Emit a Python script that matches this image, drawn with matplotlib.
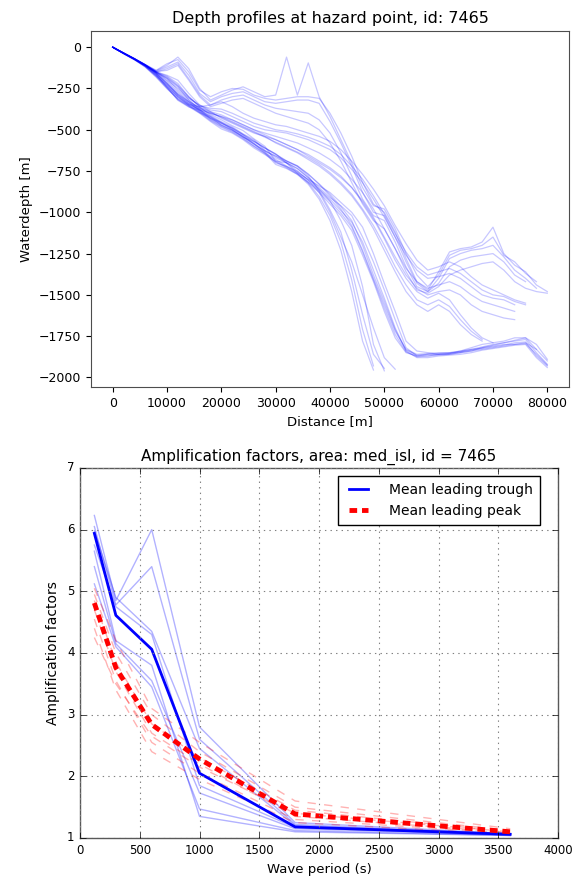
import matplotlib
matplotlib.use("Agg")
import matplotlib.pyplot as plt
import numpy as np

# ---- depth profiles (distance grid every 2 km, depth in m) ----
distance = [0, 2000, 4000, 6000, 8000, 10000, 12000, 14000, 16000, 18000,
            20000, 22000, 24000, 26000, 28000, 30000, 32000, 34000, 36000, 38000,
            40000, 42000, 44000, 46000, 48000, 50000, 52000, 54000, 56000, 58000,
            60000, 62000, 64000, 66000, 68000, 70000, 72000, 74000, 76000, 78000,
            80000]

# profiles that drop off the steep cliff near 48-52 km
L1 = [0, -36, -72, -110, -160, -225, -285, -330, -370, -405, -440, -475, -505, -555, -600, -690, -700, -735, -790, -860, -930, -1050, -1200, -1450, -1800, -1960]
L2 = [0, -40, -76, -116, -172, -232, -300, -345, -362, -412, -452, -482, -525, -560, -625, -660, -690, -722, -780, -870, -985, -1120, -1350, -1620, -1860, -1945]
L3 = [0, -38, -73, -121, -182, -252, -312, -352, -392, -422, -472, -502, -545, -572, -612, -645, -702, -762, -822, -905, -1020, -1180, -1410, -1710, -1930]
L4 = [0, -37, -70, -112, -166, -242, -322, -362, -382, -432, -462, -492, -532, -582, -632, -700, -722, -752, -805, -880, -1000, -1150, -1300, -1500, -1700, -1880, -1950]
L5 = [0, -39, -75, -118, -178, -248, -318, -356, -398, -428, -455, -498, -540, -585, -640, -710, -735, -770, -830, -920, -1050, -1230, -1480, -1780, -1955]

# main bundle running out on the flat basin floor
M1 = [0, -35, -72, -110, -160, -220, -290, -340, -380, -420, -460, -490, -530, -570, -610, -650, -690, -720, -770, -830, -900, -980, -1080, -1230, -1400, -1560, -1720, -1830, -1860, -1855, -1850, -1850, -1845, -1830, -1815, -1800, -1790, -1780, -1770, -1850, -1920]
M2 = [0, -37, -74, -114, -168, -236, -306, -350, -375, -430, -470, -500, -545, -585, -625, -670, -700, -735, -790, -850, -910, -960, -1020, -1150, -1300, -1470, -1650, -1820, -1870, -1870, -1865, -1860, -1850, -1840, -1820, -1810, -1800, -1800, -1790, -1830, -1900]
M3 = [0, -34, -68, -106, -155, -215, -280, -330, -390, -440, -480, -510, -550, -600, -640, -680, -720, -760, -800, -840, -880, -940, -1000, -1090, -1250, -1430, -1600, -1780, -1840, -1850, -1860, -1855, -1840, -1820, -1800, -1790, -1780, -1760, -1760, -1800, -1890]
M4 = [0, -39, -77, -118, -175, -245, -315, -360, -400, -450, -495, -520, -560, -610, -650, -695, -730, -770, -820, -880, -950, -1020, -1110, -1260, -1420, -1600, -1760, -1850, -1870, -1860, -1855, -1850, -1840, -1830, -1825, -1815, -1805, -1790, -1785, -1870, -1930]
M5 = [0, -36, -71, -108, -162, -228, -295, -345, -385, -435, -475, -505, -540, -590, -630, -660, -700, -750, -805, -860, -920, -990, -1060, -1180, -1350, -1520, -1700, -1840, -1880, -1880, -1870, -1865, -1860, -1850, -1835, -1825, -1815, -1805, -1800, -1880, -1940]
M6 = [0, -35, -70, -109, -158, -218, -288, -338, -378, -418, -458, -488, -528, -568, -608, -648, -688, -718, -768, -828, -890, -965, -1050, -1200, -1380, -1540, -1710, -1835, -1865, -1860, -1860, -1855, -1845, -1835, -1820, -1805, -1790, -1775, -1760, -1830]
M7 = [0, -38, -73, -115, -170, -240, -300, -352, -395, -445, -485, -515, -555, -600, -645, -690, -725, -765, -815, -870, -935, -1005, -1090, -1240, -1410, -1580, -1740, -1845, -1875, -1870, -1860, -1860, -1850, -1840, -1830, -1820, -1810, -1800, -1795, -1860, -1925]

# middle profiles, gentler slope
MID1 = [0, -36, -72, -110, -150, -200, -250, -310, -350, -390, -430, -460, -490, -520, -540, -560, -590, -620, -660, -700, -740, -790, -850, -930, -1030, -1150, -1270, -1380, -1460, -1500, -1480, -1470, -1500, -1560, -1600, -1620, -1640, -1650]
MID2 = [0, -38, -74, -112, -155, -190, -240, -320, -380, -400, -420, -440, -470, -500, -520, -540, -560, -580, -610, -640, -680, -730, -800, -880, -980, -1100, -1220, -1340, -1420, -1460, -1440, -1420, -1450, -1500, -1540, -1560, -1580, -1600]
MID3 = [0, -35, -70, -108, -150, -170, -200, -280, -350, -380, -390, -420, -450, -480, -500, -510, -520, -540, -560, -590, -620, -670, -740, -820, -920, -1030, -1150, -1260, -1350, -1400, -1390, -1370, -1400, -1450, -1500, -1520, -1530, -1560]
MID4 = [0, -37, -73, -111, -152, -180, -230, -300, -360, -350, -330, -360, -400, -430, -450, -470, -480, -500, -520, -540, -570, -620, -690, -770, -860, -960, -1080, -1190, -1290, -1350, -1330, -1300, -1330, -1390, -1440, -1470, -1500, -1530, -1550]
MID5 = [0, -36, -71, -109, -151, -185, -235, -305, -355, -370, -375, -400, -430, -460, -480, -500, -510, -525, -545, -570, -600, -650, -720, -800, -900, -1010, -1130, -1240, -1330, -1380, -1360, -1340, -1370, -1420, -1470, -1500, -1510, -1540, -1560]

# profiles ending in the channel around 66-70 km
R1a = [0, -36, -70, -108, -150, -190, -260, -320, -370, -400, -420, -450, -480, -510, -540, -580, -610, -640, -680, -720, -770, -830, -900, -990, -1100, -1230, -1360, -1480, -1560, -1600, -1560, -1600, -1680, -1740, -1780]
R1b = [0, -35, -69, -107, -148, -175, -220, -300, -360, -390, -410, -440, -470, -500, -530, -560, -590, -620, -650, -690, -730, -780, -850, -940, -1040, -1160, -1290, -1400, -1480, -1520, -1490, -1530, -1620, -1700, -1760, -1790]
R1c = [0, -37, -72, -110, -155, -205, -270, -330, -365, -395, -425, -455, -485, -515, -545, -575, -605, -635, -670, -710, -760, -820, -890, -980, -1080, -1200, -1330, -1440, -1530, -1560, -1530, -1570, -1650, -1720, -1770]

# shallow shelf profiles with late cliff and ridge at 60-70 km
R2a = [0, -35, -70, -105, -140, -100, -75, -150, -260, -300, -270, -250, -255, -290, -310, -320, -310, -300, -300, -310, -400, -520, -660, -820, -950, -1000, -1120, -1280, -1420, -1470, -1360, -1240, -1220, -1210, -1180, -1090, -1250, -1320, -1360, -1440, -1480]
R2b = [0, -36, -71, -106, -142, -110, -60, -130, -250, -320, -290, -260, -240, -270, -300, -290, -60, -290, -95, -300, -420, -560, -700, -850, -960, -980, -1100, -1250, -1380, -1450, -1380, -1260, -1230, -1220, -1200, -1150, -1260, -1300, -1370, -1420]
R2c = [0, -37, -72, -108, -145, -120, -90, -170, -280, -330, -300, -280, -270, -300, -330, -340, -330, -320, -320, -340, -450, -580, -720, -880, -1000, -1020, -1150, -1300, -1430, -1480, -1400, -1280, -1250, -1230, -1220, -1200, -1270, -1350, -1400, -1460]
R2d = [0, -36, -70, -107, -150, -130, -100, -190, -290, -350, -320, -300, -290, -320, -350, -370, -380, -390, -400, -440, -520, -640, -780, -920, -1020, -1050, -1180, -1330, -1450, -1480, -1430, -1330, -1290, -1270, -1260, -1250, -1300, -1380, -1420]
R2e = [0, -35, -70, -106, -148, -140, -110, -200, -300, -360, -340, -320, -310, -340, -370, -400, -420, -440, -460, -500, -580, -690, -820, -950, -1050, -1100, -1220, -1360, -1470, -1490, -1450, -1380, -1350, -1330, -1310, -1300, -1350, -1420, -1460, -1480, -1490]

profiles = [L1, L2, L3, L4, L5, M1, M2, M3, M4, M5, M6, M7,
            MID1, MID2, MID3, MID4, MID5, R1a, R1b, R1c,
            R2a, R2b, R2c, R2d, R2e]

# ---- amplification factors ----
period = [120, 300, 600, 1000, 1800, 3600]
trough_runs = [
    [6.23, 4.85, 6.00, 2.80, 1.25, 1.07],
    [6.05, 4.78, 5.40, 2.60, 1.22, 1.06],
    [5.98, 4.90, 4.35, 2.45, 1.20, 1.06],
    [5.75, 4.75, 4.30, 1.85, 1.17, 1.05],
    [5.40, 4.15, 3.55, 1.73, 1.15, 1.05],
    [5.12, 4.10, 3.45, 1.47, 1.12, 1.04],
    [5.65, 4.20, 3.80, 1.35, 1.10, 1.04],
]
peak_runs = [
    [5.05, 4.20, 3.10, 2.55, 1.60, 1.15],
    [4.95, 4.00, 3.00, 2.40, 1.50, 1.12],
    [4.85, 3.85, 2.85, 2.30, 1.45, 1.10],
    [4.70, 3.70, 2.70, 2.20, 1.35, 1.09],
    [4.55, 3.55, 2.55, 2.05, 1.30, 1.08],
    [4.40, 3.40, 2.40, 1.95, 1.25, 1.06],
    [4.25, 3.50, 2.65, 2.15, 1.40, 1.10],
]
mean_trough = [5.94, 4.61, 4.06, 2.05, 1.18, 1.06]
mean_peak = [4.81, 3.76, 2.84, 2.28, 1.39, 1.10]

fig = plt.figure(figsize=(5.74, 8.76), dpi=100)

# top panel: default style
ax1 = fig.add_axes([0.1585, 0.5582, 0.8328, 0.4064])
for p in profiles:
    ax1.plot(distance[:len(p)], p, color="blue", alpha=0.22, lw=0.9)
ax1.set_title("Depth profiles at hazard point, id: 7465", fontsize=11.5)
ax1.set_xlabel("Distance [m]", fontsize=9.5)
ax1.set_ylabel("Waterdepth [m]", fontsize=9.5)
ax1.set_yticks([0, -250, -500, -750, -1000, -1250, -1500, -1750, -2000])
ax1.set_xticks([0, 10000, 20000, 30000, 40000, 50000, 60000, 70000, 80000])
ax1.tick_params(labelsize=9)
for s in ax1.spines.values():
    s.set_color("0.3")

# bottom panel: old classic look
with plt.style.context("classic"):
    ax2 = fig.add_axes([0.1394, 0.0434, 0.8328, 0.4224])
    for r in trough_runs:
        ax2.plot(period, r, color="blue", alpha=0.3, lw=1)
    for r in peak_runs:
        ax2.plot(period, r, "--", color="red", alpha=0.3, lw=1)
    ax2.plot(period, mean_trough, color="blue", lw=2, label="Mean leading trough")
    ax2.plot(period, mean_peak, "--", color="red", lw=3.5, dashes=(5.5, 3.5),
             label="Mean leading peak")
    ax2.set_xlim(0, 4000)
    ax2.set_ylim(1, 7)
    ax2.grid(True, color="0.5", linestyle=":", lw=0.8)
    ax2.set_title("Amplification factors, area: med_isl, id = 7465", fontsize=11)
    ax2.set_xlabel("Wave period (s)", fontsize=9.5)
    ax2.set_ylabel("Amplification factors", fontsize=10)
    ax2.tick_params(labelsize=8.5)
    for s in ax2.spines.values():
        s.set_color("0.35")
    ax2.legend(loc="upper right", bbox_to_anchor=(0.962, 0.978), borderaxespad=0,
               fontsize=10, handlelength=2.0, handletextpad=1.2, borderpad=0.5)

fig.savefig("out.png", dpi=100)
